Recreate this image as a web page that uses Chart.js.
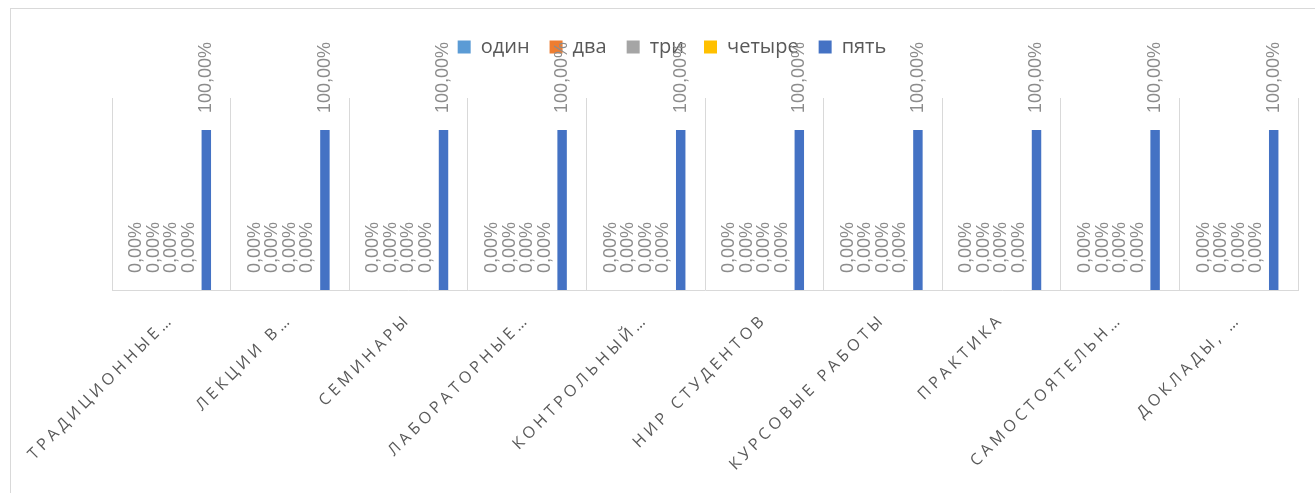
<!DOCTYPE html>
<html lang="ru">
<head>
<meta charset="utf-8">
<title>Оценки</title>
<script src="https://cdn.jsdelivr.net/npm/chart.js@4.4.1/dist/chart.umd.min.js"></script>
<style>
  html, body { margin: 0; padding: 0; background: #fff; overflow: hidden; }
  .frame {
    position: absolute; left: 10px; top: 8px; width: 1400px; height: 600px;
    border-left: 1px solid #d9d9d9; border-top: 1px solid #d9d9d9;
  }
  #chart { position: absolute; left: 0; top: 0; }
</style>
</head>
<body>
<div class="frame"></div>
<canvas id="chart" width="1334" height="493"></canvas>
<script>
var categories = ['ТРАДИЦИОННЫЕ…', 'ЛЕКЦИИ В…', 'СЕМИНАРЫ', 'ЛАБОРАТОРНЫЕ…', 'КОНТРОЛЬНЫЙ…',
                  'НИР СТУДЕНТОВ', 'КУРСОВЫЕ РАБОТЫ', 'ПРАКТИКА', 'САМОСТОЯТЕЛЬН…', 'ДОКЛАДЫ, …'];
var odin    = [0, 0, 0, 0, 0, 0, 0, 0, 0, 0];
var dva     = [0, 0, 0, 0, 0, 0, 0, 0, 0, 0];
var tri     = [0, 0, 0, 0, 0, 0, 0, 0, 0, 0];
var chetyre = [0, 0, 0, 0, 0, 0, 0, 0, 0, 0];
var pyat    = [100, 100, 100, 100, 100, 100, 100, 100, 100, 100];

// подписи значений, повернутые вертикально над каждым столбцом
var valueLabels = {
    id: 'valueLabels',
    beforeInit: function (chart) {
        // больше места между легендой и областью построения
        var fit = chart.legend.fit;
        chart.legend.fit = function () {
            fit.call(this);
            this.height += 31;
        };
    },
    beforeDraw: function (chart) {
        chart.ctx.letterSpacing = '0px';
    },
    afterDatasetsDraw: function (chart) {
        var ctx = chart.ctx;
        ctx.save();
        ctx.letterSpacing = '0px';
        ctx.font = '18px "Liberation Sans", Arial, sans-serif';
        ctx.fillStyle = '#8c8c8c';
        ctx.textAlign = 'left';
        ctx.textBaseline = 'middle';
        chart.data.datasets.forEach(function (ds, i) {
            chart.getDatasetMeta(i).data.forEach(function (bar, j) {
                ctx.save();
                ctx.translate(bar.x, bar.y - 17);
                ctx.rotate(-Math.PI / 2);
                ctx.fillText(ds.data[j].toFixed(2).replace('.', ',') + '%', 0, 0);
                ctx.restore();
            });
        });
        ctx.restore();
        // разреженные подписи категорий рисуются после столбцов (ticks.z = 1)
        ctx.letterSpacing = '4px';
    }
};

function series(label, data, color) {
    return {
        label: label,
        data: data,
        backgroundColor: color,
        borderWidth: 0,
        categoryPercentage: 0.738,
        barPercentage: 0.54
    };
}

var ctx = document.getElementById('chart').getContext('2d');
var myChart = new Chart(ctx, {
    type: 'bar',
    data: {
        labels: categories,
        datasets: [
            series('один', odin, '#5b9bd5'),
            series('два', dva, '#ed7d31'),
            series('три', tri, '#a5a5a5'),
            series('четыре', chetyre, '#ffc000'),
            series('пять', pyat, '#4472c4')
        ]
    },
    plugins: [valueLabels],
    options: {
        responsive: false,
        animation: false,
        layout: { padding: { left: 10, right: 0, top: 17, bottom: 0 } },
        plugins: {
            legend: {
                position: 'top',
                labels: {
                    boxWidth: 13,
                    boxHeight: 13,
                    padding: 20,
                    color: '#595959',
                    font: { family: '"Open Sans"', size: 20 }
                }
            },
            tooltip: { enabled: false }
        },
        scales: {
            x: {
                grid: { color: '#d9d9d9', drawTicks: false, offset: true },
                border: { color: '#d9d9d9' },
                ticks: {
                    z: 1,
                    autoSkip: false,
                    maxRotation: 45,
                    minRotation: 45,
                    padding: 20,
                    color: '#595959',
                    font: { family: '"Open Sans"', size: 16 }
                },
                afterFit: function (scale) {
                    scale.height = 203;
                    scale.paddingLeft = 112;
                    scale.paddingRight = 36;
                }
            },
            y: { display: false, min: 0, max: 120 }
        }
    }
});
</script>
</body>
</html>
